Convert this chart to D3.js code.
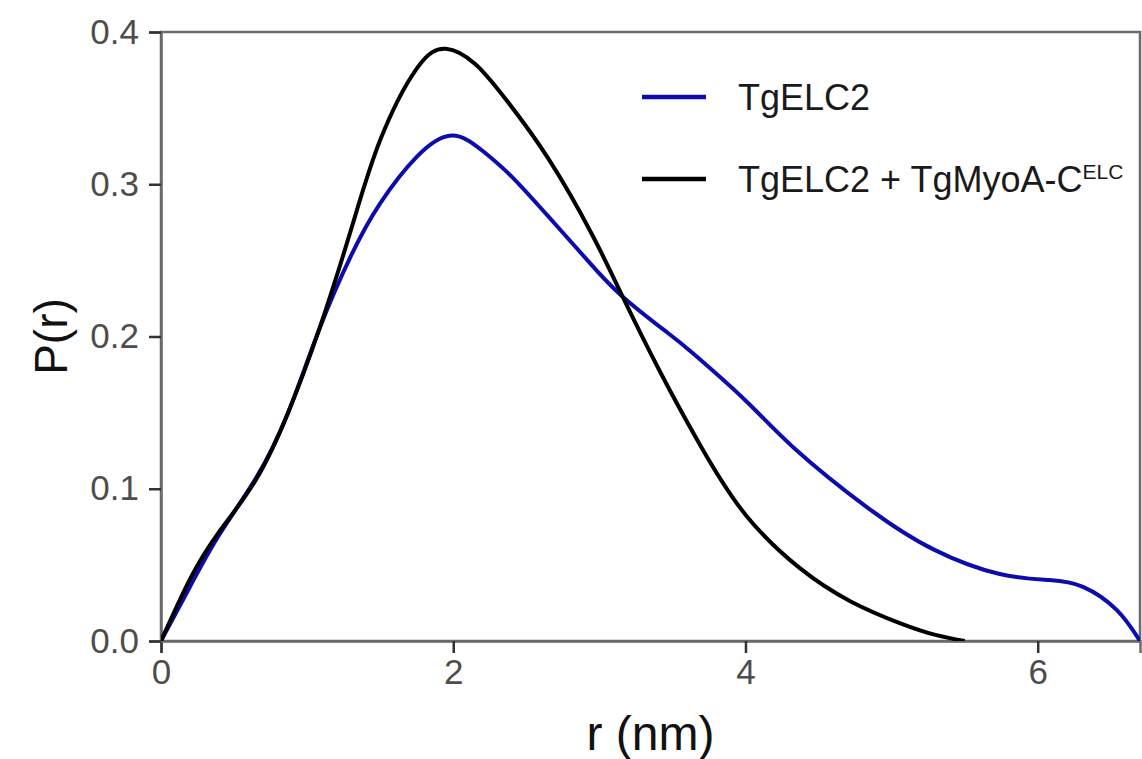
<!DOCTYPE html>
<html>
<head>
<meta charset="utf-8">
<script src="https://cdn.jsdelivr.net/npm/d3@7"></script>
<style>
  body { margin: 0; background: #fff; }
  text { font-family: "Liberation Sans", Arial, Helvetica, sans-serif; }
</style>
</head>
<body>
<div id="chart"></div>
<script>
// values
var rElc2 = [0, 0.2, 0.4, 0.65, 0.87, 1.08, 1.3, 1.5, 1.75, 1.99, 2.2, 2.4, 2.64, 2.91, 3.15, 3.46, 3.64, 4.0, 4.33, 4.83, 5.29, 5.74, 6.08, 6.31, 6.54, 6.7];
var pElc2 = [0, 0.036, 0.07, 0.107, 0.150, 0.204, 0.253, 0.2875, 0.318, 0.332, 0.322, 0.305, 0.280, 0.251, 0.227, 0.203, 0.189, 0.158, 0.127, 0.088, 0.060, 0.044, 0.040, 0.0355, 0.0204, 0];

var rComplex = [0, 0.2, 0.4, 0.65, 0.87, 1.08, 1.3, 1.5, 1.75, 1.95, 2.15, 2.35, 2.65, 2.95, 3.15, 3.42, 3.7, 4.0, 4.37, 4.72, 5.06, 5.3, 5.5];
var pComplex = [0, 0.041, 0.072, 0.106, 0.150, 0.204, 0.27, 0.329, 0.376, 0.389, 0.379, 0.357, 0.317, 0.267, 0.228, 0.176, 0.127, 0.083, 0.048, 0.026, 0.0116, 0.004, 0];

var xTicks = [0, 2, 4, 6];
var yTicks = [0, 0.1, 0.2, 0.3, 0.4];
var seriesNames = ["TgELC2", "TgELC2 + TgMyoA-C"];
var seriesColors = ["#0c0cae", "#000000"];

var width = 1142, height = 759;
var margin = {top: 32, right: 2, bottom: 118, left: 161};

var svg = d3.select('#chart').append('svg')
  .attr('width', width).attr('height', height);
svg.append('rect').attr('width', width).attr('height', height).attr('fill', '#fff');

var x = d3.scaleLinear().domain([0, 6.7]).range([margin.left, width - margin.right]);
var y = d3.scaleLinear().domain([0, 0.4]).range([height - margin.bottom, margin.top]);

// frame
svg.append('rect')
  .attr('x', x(0)).attr('y', y(0.4))
  .attr('width', x(6.7) - x(0)).attr('height', y(0) - y(0.4))
  .attr('fill', 'none').attr('stroke', '#6a6a6a').attr('stroke-width', 2.5);

var xAxis = svg.append('g')
  .attr('transform', 'translate(0,' + y(0) + ')')
  .call(d3.axisBottom(x).tickValues(xTicks).tickFormat(d3.format('d')).tickSize(12).tickPadding(6));
var yAxis = svg.append('g')
  .attr('transform', 'translate(' + x(0) + ',0)')
  .call(d3.axisLeft(y).tickValues(yTicks).tickFormat(d3.format('.1f')).tickSize(12).tickPadding(10));

[xAxis, yAxis].forEach(function (g) {
  g.select('.domain').attr('stroke', '#6a6a6a').attr('stroke-width', 2.5);
  g.selectAll('.tick line').attr('stroke', '#333').attr('stroke-width', 2.5);
  g.selectAll('.tick text').attr('fill', '#4d4d4d').style('font-size', '35px')
    .style('font-family', '"Liberation Sans", Arial, sans-serif');
});

// curves, clipped to the panel so the spline never pokes under the axis
svg.append('clipPath').attr('id', 'panel')
  .append('rect')
  .attr('x', x(0)).attr('y', y(0.4))
  .attr('width', x(6.7) - x(0)).attr('height', y(0) - y(0.4));

var line = d3.line()
  .x(function (d) { return x(d[0]); })
  .y(function (d) { return y(d[1]); })
  .curve(d3.curveNatural);

var series = [
  d3.zip(rElc2, pElc2),
  d3.zip(rComplex, pComplex)
];

svg.append('g').attr('clip-path', 'url(#panel)')
  .selectAll('path.curve')
  .data(series)
  .enter()
  .append('path')
  .attr('class', 'curve')
  .attr('d', line)
  .attr('fill', 'none')
  .attr('stroke', function (d, i) { return seriesColors[i]; })
  .attr('stroke-width', 4)
  .attr('stroke-linejoin', 'round');

// axis titles
svg.append('text')
  .attr('x', (x(0) + x(6.7)) / 2).attr('y', 750)
  .attr('text-anchor', 'middle')
  .style('font-size', '48px').attr('fill', '#111')
  .text('r (nm)');

svg.append('text')
  .attr('transform', 'translate(67,' + ((y(0) + y(0.4)) / 2) + ') rotate(-90)')
  .attr('text-anchor', 'middle')
  .style('font-size', '46px').attr('fill', '#111')
  .text('P(r)');

// legend
var legend = svg.append('g');
var legendY = [97, 179];
seriesNames.forEach(function (name, i) {
  legend.append('line')
    .attr('x1', 642).attr('x2', 706)
    .attr('y1', legendY[i]).attr('y2', legendY[i])
    .attr('stroke', seriesColors[i]).attr('stroke-width', 4.5);
  var t = legend.append('text')
    .attr('x', 738).attr('y', legendY[i] + 13)
    .style('font-size', '36px').attr('fill', '#1a1a1a')
    .text(name);
  if (i === 1) {
    t.append('tspan')
      .attr('dy', -13)
      .style('font-size', '21px')
      .text('ELC');
  }
});
</script>
</body>
</html>
